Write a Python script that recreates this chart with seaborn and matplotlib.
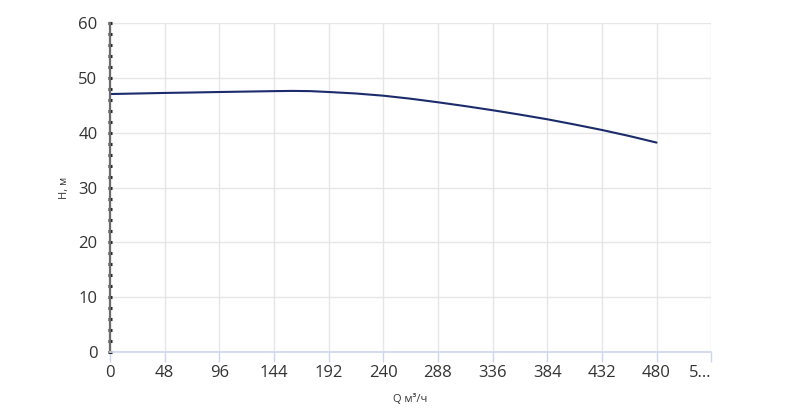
import pandas as pd
import seaborn as sns
import matplotlib.pyplot as plt

# Pump curve: flow Q (m3/h) vs head H (m)
q_values = [0, 24, 48, 72, 96, 120, 144, 160, 176, 192, 216, 240,
            264, 288, 312, 336, 360, 384, 408, 432, 456, 480]
h_values = [47.05, 47.15, 47.25, 47.33, 47.42, 47.5, 47.58, 47.62, 47.58, 47.42, 47.15, 46.75,
            46.2, 45.55, 44.85, 44.1, 43.3, 42.45, 41.5, 40.5, 39.4, 38.2]

x_ticks = [0, 48, 96, 144, 192, 240, 288, 336, 384, 432, 480, 528]
x_tick_labels = ["0", "48", "96", "144", "192", "240", "288", "336", "384", "432", "480", "5…"]
y_ticks = [0, 10, 20, 30, 40, 50, 60]
y_minor_ticks = list(range(0, 61, 2))

df = pd.DataFrame({"Q": q_values, "H": h_values})

sns.set_style("white")
plt.rcParams["font.family"] = ["Open Sans", "DejaVu Sans"]

fig = plt.figure(figsize=(8, 4.08), dpi=100)
ax = fig.add_axes([0.1375, 0.137, 0.7515, 0.8066])

sns.lineplot(data=df, x="Q", y="H", ax=ax, color="#1b2b6b", linewidth=1.5)

ax.set_xlim(0, 528)
ax.set_ylim(0, 60)
ax.set_xticks(x_ticks)
ax.set_xticklabels(x_tick_labels)
ax.set_yticks(y_ticks)
ax.set_yticks(y_minor_ticks, minor=True)
ax.yaxis.remove_overlapping_locs = False

ax.grid(True, which="major", color="#e6e6e6", linewidth=1)
ax.set_axisbelow(True)

for side in ["top", "right"]:
    ax.spines[side].set_visible(False)
ax.spines["bottom"].set_color("#ccd6eb")
ax.spines["bottom"].set_linewidth(1.2)
ax.spines["left"].set_color("#6b6b6b")
ax.spines["left"].set_linewidth(1.6)

ax.tick_params(axis="x", bottom=True, length=7, width=1, color="#ccd6eb", labelsize=12,
               labelcolor="#333333", pad=2)
ax.tick_params(axis="y", which="major", left=True, length=0, labelsize=12,
               labelcolor="#333333", pad=9)
ax.tick_params(axis="y", which="minor", left=True, direction="inout", length=2.2,
               width=2.2, color="#222222")
ax.get_xticklabels()[-1].set_horizontalalignment("right")

ax.set_xlabel("Q м³/ч", fontsize=8, color="#333333", labelpad=10)
ax.set_ylabel("H, м", fontsize=8, color="#333333", labelpad=6)

plt.savefig("out.png", dpi=100)
